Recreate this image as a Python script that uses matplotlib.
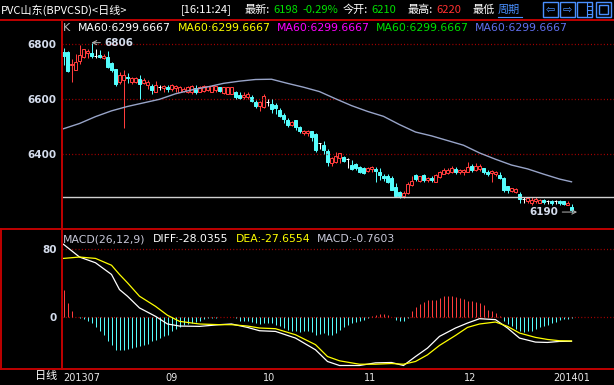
import numpy as np
import matplotlib.pyplot as plt
from matplotlib.patches import Rectangle
from matplotlib.lines import Line2D

plt.rcParams['font.family'] = ['Noto Sans CJK SC', 'DejaVu Sans']
plt.rcParams['lines.scale_dashes'] = False

W, H = 614, 385

# daily OHLC, 2013-07 .. 2014-01
opens = [6772, 6772, 6726, 6707, 6738, 6753, 6770, 6770, 6758, 6760,
         6751, 6753, 6731, 6710, 6662, 6669, 6681, 6662, 6664, 6672,
         6660, 6652, 6650, 6628, 6643, 6640, 6645, 6638, 6640, 6628,
         6631, 6628, 6626, 6640, 6628, 6631, 6633, 6628, 6633, 6643,
         6624, 6621, 6621, 6627, 6615, 6610, 6608, 6610, 6591, 6577,
         6572, 6589, 6582, 6579, 6562, 6543, 6524, 6507, 6524, 6500,
         6478, 6476, 6483, 6474, 6442, 6433, 6411, 6370, 6373, 6387,
         6390, 6382, 6361, 6363, 6354, 6349, 6339, 6346, 6346, 6334,
         6322, 6320, 6315, 6282, 6262, 6248, 6260, 6289, 6325, 6303,
         6325, 6305, 6313, 6301, 6318, 6330, 6332, 6334, 6346, 6334,
         6334, 6337, 6356, 6342, 6346, 6349, 6337, 6332, 6327, 6325,
         6315, 6284, 6265, 6262, 6255, 6238, 6231, 6224, 6229, 6224,
         6234, 6229, 6231, 6229, 6231, 6229, 6214, 6210]
highs = [6787, 6775, 6748, 6763, 6796, 6784, 6784, 6806, 6784, 6778,
         6763, 6775, 6736, 6712, 6698, 6707, 6695, 6681, 6681, 6688,
         6676, 6669, 6655, 6667, 6652, 6652, 6652, 6655, 6652, 6648,
         6643, 6648, 6652, 6652, 6648, 6652, 6650, 6652, 6650, 6645,
         6645, 6645, 6645, 6630, 6627, 6625, 6625, 6617, 6598, 6594,
         6618, 6601, 6601, 6586, 6570, 6550, 6531, 6522, 6526, 6502,
         6490, 6490, 6483, 6476, 6442, 6447, 6421, 6390, 6409, 6406,
         6394, 6385, 6380, 6368, 6358, 6354, 6354, 6358, 6354, 6349,
         6330, 6327, 6320, 6296, 6265, 6267, 6298, 6320, 6330, 6322,
         6327, 6318, 6320, 6327, 6339, 6349, 6351, 6356, 6354, 6346,
         6346, 6373, 6363, 6368, 6363, 6351, 6342, 6342, 6339, 6337,
         6318, 6286, 6279, 6277, 6262, 6246, 6246, 6243, 6243, 6238,
         6236, 6234, 6234, 6234, 6234, 6231, 6229, 6220]
lows = [6724, 6700, 6662, 6707, 6730, 6750, 6750, 6750, 6750, 6750,
        6746, 6714, 6700, 6650, 6657, 6494, 6660, 6657, 6660, 6602,
        6655, 6638, 6621, 6626, 6633, 6628, 6628, 6631, 6628, 6626,
        6626, 6624, 6621, 6621, 6626, 6626, 6631, 6626, 6628, 6628,
        6621, 6619, 6619, 6601, 6601, 6601, 6601, 6589, 6567, 6558,
        6570, 6577, 6550, 6548, 6536, 6514, 6498, 6502, 6490, 6476,
        6469, 6466, 6450, 6409, 6418, 6402, 6358, 6356, 6370, 6370,
        6373, 6351, 6342, 6342, 6332, 6330, 6334, 6334, 6301, 6308,
        6303, 6294, 6270, 6246, 6241, 6241, 6256, 6286, 6303, 6301,
        6298, 6301, 6301, 6298, 6315, 6327, 6330, 6332, 6330, 6330,
        6325, 6334, 6334, 6339, 6339, 6330, 6322, 6301, 6320, 6310,
        6262, 6258, 6262, 6260, 6224, 6224, 6224, 6217, 6222, 6222,
        6219, 6219, 6214, 6219, 6217, 6217, 6214, 6190]
closes = [6758, 6702, 6728, 6734, 6760, 6782, 6777, 6758, 6758, 6753,
          6758, 6717, 6707, 6655, 6688, 6688, 6676, 6679, 6676, 6655,
          6669, 6664, 6633, 6652, 6643, 6648, 6638, 6652, 6648, 6645,
          6638, 6645, 6648, 6626, 6645, 6650, 6648, 6648, 6648, 6631,
          6643, 6643, 6643, 6610, 6603, 6617, 6620, 6593, 6577, 6591,
          6613, 6589, 6565, 6567, 6538, 6529, 6505, 6519, 6498, 6483,
          6485, 6485, 6464, 6414, 6442, 6416, 6373, 6385, 6392, 6404,
          6375, 6382, 6346, 6349, 6337, 6332, 6351, 6353, 6339, 6325,
          6315, 6301, 6272, 6248, 6250, 6258, 6291, 6303, 6310, 6320,
          6308, 6313, 6308, 6325, 6337, 6342, 6344, 6349, 6334, 6344,
          6344, 6354, 6342, 6356, 6358, 6334, 6327, 6339, 6334, 6313,
          6270, 6272, 6277, 6274, 6238, 6238, 6241, 6234, 6238, 6234,
          6226, 6229, 6224, 6229, 6224, 6219, 6224, 6198]

ma_idx = [0, 4, 8, 12, 16, 20, 24, 28, 32, 36, 40, 44, 48, 52, 56, 60, 64,
          68, 72, 76, 80, 84, 88, 92, 96, 100, 104, 108, 112, 116, 120, 124, 127]
ma60 = [6493, 6512, 6537, 6558, 6574, 6587, 6600, 6620, 6634, 6645, 6658,
        6666, 6672, 6673, 6658, 6644, 6628, 6602, 6577, 6556, 6538, 6508,
        6481, 6467, 6450, 6433, 6405, 6382, 6361, 6347, 6328, 6310, 6300]

macd_idx = [0, 4, 8, 12, 14, 16, 19, 23, 26, 29, 34, 39, 42, 46, 49, 53, 58,
            63, 66, 69, 74, 78, 82, 85, 88, 91, 94, 98, 101, 104, 108, 111,
            114, 118, 121, 124, 127]
diff_vals = [85.5, 70.6, 63.9, 50.2, 32.5, 24.7, 11, 1.2, -7.8, -10.2, -10.6,
             -8.6, -7.8, -11.8, -15.7, -16.5, -24.3, -38, -51.7, -56.4, -56.4,
             -53.3, -52.9, -56.4, -45.9, -36, -22.3, -12.5, -6.7, -1.6, -2.7,
             -12.5, -24.3, -29, -29.4, -28.2, -28.04]
dea_vals = [69, 70.6, 69, 61, 50.2, 40.4, 24.7, 12.9, 2.4, -4.7, -7.8, -8.6,
            -8.6, -10.2, -12.5, -13.3, -20.4, -32, -45.9, -50.9, -54.9, -54.9,
            -54.1, -54.9, -51.7, -43.9, -32.9, -21.2, -11.8, -7.8, -5.5, -10.6,
            -18.4, -23.5, -25.9, -27.4, -27.66]
macd_hist = [32.5, 16.9, 7.8, 0.5, -0.5, -1.6, -3.9, -6.7, -11.8, -16.5,
             -21.2, -27.4, -32.1, -38, -38.4, -38, -36.8, -36, -35.3, -34.1,
             -32.9, -31.4, -28.2, -26.6, -24.3, -22.3, -20.4, -16.5, -13.3, -11.8,
             -9.4, -7.8, -6.7, -5.5, -3.9, -2.4, -1.2, -0.8, -0.4, 0.3,
             0.5, 0.5, 0.2, -0.8, -3.9, -4.7, -4.7, -5.5, -6.7, -7.8,
             -6.3, -6.3, -6.7, -8.6, -10.6, -12.5, -14.5, -15.7, -16.5, -17.3,
             -16.5, -15.7, -17.3, -20.4, -19.6, -18.4, -21.2, -21.2, -18.4, -14.5,
             -11.8, -8.6, -6.7, -5.5, -3.9, -2.7, -0.8, 1.6, 2.4, 3.9,
             3.9, 2.4, 0.3, -2.7, -4.7, -3.9, -0.5, 7.8, 12.2, 15.7,
             18, 20.4, 20.8, 20.8, 22.7, 24.7, 25.5, 25.5, 24.3, 22.7,
             21.2, 19.6, 18.8, 18, 16.9, 14.1, 9, 7.1, 5.1, 1.2,
             -4.7, -7.8, -10.6, -13.3, -16.5, -17.3, -16.5, -15.7, -13.3, -11.8,
             -10.6, -8.6, -7.1, -5.5, -3.5, -2.4, -1.6, -0.76]

support_level = 6244
main_ticks = [6400, 6600, 6800]
macd_ticks = [0, 80]
month_pos = [0, 25.5, 49.75, 75, 100, 122.5]
month_labels = ['201307', '09', '10', '11', '12', '201401']

UP = '#FF3C3C'
DOWN = '#54FCFC'
FRAME = '#C00000'
GRID = '#B00000'
LABEL = '#D4DCEC'
px = 0.72  # one pixel in points at dpi 100
DOT = (0, (0.72, 1.6))

fig = plt.figure(figsize=(W / 100, H / 100), dpi=100, facecolor='black')


def fx(x):
    return x / W


def fy(y):
    return 1 - y / H


ax = fig.add_axes([fx(62), fy(228), fx(614) - fx(62), fy(19) - fy(228)], facecolor='black')
ax2 = fig.add_axes([fx(62), fy(369), fx(614) - fx(62), fy(228) - fy(369)], facecolor='black', sharex=ax)

for a in (ax, ax2):
    for s in a.spines.values():
        s.set_visible(False)
    a.tick_params(axis='both', length=0, colors=LABEL, labelsize=7.5, pad=4)

ax.set_xlim(-0.375, 137.625)
ax.set_ylim(6132, 6892)
ax2.set_ylim(-60.5, 104.6)

for v in main_ticks:
    ax.axhline(v, color=GRID, lw=0.9, ls=DOT)
for v in macd_ticks:
    ax2.axhline(v, color=GRID, lw=0.9, ls=DOT)

ax.set_yticks(main_ticks)
ax2.set_yticks(macd_ticks)
for lab in ax.get_yticklabels() + ax2.get_yticklabels():
    lab.set_fontweight('bold')
    lab.set_family('DejaVu Sans')
plt.setp(ax.get_xticklabels(), visible=False)

# candles
bw = 0.6
for i, (o, h, l, c) in enumerate(zip(opens, highs, lows, closes)):
    top, bot = max(o, c), min(o, c)
    if c > o:
        ax.vlines(i, top, h, color=UP, lw=px)
        ax.vlines(i, l, bot, color=UP, lw=px)
        ax.add_patch(Rectangle((i - bw / 2, bot), bw, top - bot, fc='black', ec=UP, lw=px))
    elif c < o:
        ax.vlines(i, l, h, color=DOWN, lw=px)
        ax.add_patch(Rectangle((i - bw / 2, bot), bw, top - bot, fc=DOWN, ec=DOWN, lw=px))
    else:
        ax.vlines(i, l, h, color='white', lw=px)
        ax.hlines(c, i - bw / 2 - 0.1, i + bw / 2 + 0.1, color='white', lw=px)

ax.plot(ma_idx, ma60, color='#98A4C8', lw=1.0)
ax.axhline(support_level, color='#D0D0D0', lw=1.0)

hi_i = int(np.argmax(highs))
lo_i = int(np.argmin(lows))
ax.annotate(str(highs[hi_i]), xy=(hi_i, highs[hi_i]), xytext=(13, 0), textcoords='offset pixels',
            ha='left', va='center', color=LABEL, fontsize=7.5, fontweight='bold', family='DejaVu Sans',
            arrowprops=dict(arrowstyle='->', color='#B0B0B0', lw=px, shrinkA=1, shrinkB=0))
ax.annotate(str(lows[lo_i]), xy=(lo_i + 1.4, lows[lo_i]), xytext=(-19, 0), textcoords='offset pixels',
            ha='right', va='center', color=LABEL, fontsize=7.5, fontweight='bold', family='DejaVu Sans',
            arrowprops=dict(arrowstyle='->', color='#B0B0B0', lw=px, shrinkA=1, shrinkB=0))

# MACD
hist = np.array(macd_hist)
idx = np.arange(len(hist))
ax2.vlines(idx[hist > 0], 0, hist[hist > 0], color=UP, lw=px)
ax2.vlines(idx[hist < 0], 0, hist[hist < 0], color=DOWN, lw=px)
ax2.plot(macd_idx, diff_vals, color='white', lw=0.9)
ax2.plot(macd_idx, dea_vals, color='#FFFF00', lw=0.9)

ax2.set_xticks(month_pos)
ax2.set_xticklabels(month_labels, ha='left', color='#E8E8E8', fontsize=7, family='DejaVu Sans')
ax2.tick_params(axis='x', pad=3)

# frame lines
frame = [((0, 614), (19.5, 19.5)), ((0, 614), (228.5, 228.5)), ((0, 614), (368.5, 368.5)),
         ((61.5, 61.5), (19.5, 368.5)), ((1, 1), (228.5, 368.5))]
for xs, ys in frame:
    fig.add_artist(Line2D([fx(x) for x in xs], [fy(y) for y in ys], color=FRAME, lw=1.4))

# header
hy = fy(10)
fs = 8
fig.text(fx(1), hy, 'PVC山东(BPVCSD)<日线>', color='white', fontsize=fs, va='center')
fig.text(fx(181), hy, '[16:11:24]', color='white', fontsize=fs, va='center')
fig.text(fx(245), hy, '最新:', color='white', fontsize=fs, va='center')
fig.text(fx(273), hy, '6198', color='#00E000', fontsize=fs, va='center')
fig.text(fx(302), hy, '-0.29%', color='#00E000', fontsize=fs, va='center')
fig.text(fx(343), hy, '今开:', color='white', fontsize=fs, va='center')
fig.text(fx(371), hy, '6210', color='#00E000', fontsize=fs, va='center')
fig.text(fx(408), hy, '最高:', color='white', fontsize=fs, va='center')
fig.text(fx(436), hy, '6220', color='#FF3030', fontsize=fs, va='center')
fig.text(fx(473), hy, '最低', color='white', fontsize=fs, va='center')
fig.text(fx(498), hy, '周期', color='#4A90FF', fontsize=fs, va='center')
fig.add_artist(Line2D([fx(498), fx(522)], [fy(17), fy(17)], color='#4A90FF', lw=0.8))

icons = [(543, '⇦'), (560, '⇨'), (577, ''), (596, '')]
for x0, g in icons:
    fig.add_artist(Rectangle((fx(x0), fy(17)), fx(15), fy(2) - fy(17), fill=False,
                             ec='#4A90FF', lw=1.0, transform=fig.transFigure))
    if g:
        fig.text(fx(x0 + 7.5), fy(9.5), g, color='#4A90FF', fontsize=8, ha='center', va='center',
                 family='DejaVu Sans')
fig.add_artist(Line2D([fx(587), fx(587)], [fy(2), fy(17)], color='#4A90FF', lw=0.8))
for yy in (6, 10, 14):
    fig.add_artist(Line2D([fx(587), fx(592)], [fy(yy), fy(yy)], color='#4A90FF', lw=0.8))
fig.add_artist(Rectangle((fx(599), fy(14)), fx(9), fy(5) - fy(14), fill=False,
                         ec='#4A90FF', lw=1.0, transform=fig.transFigure))

# legend line
ly = fy(28)
fig.text(fx(63), ly, 'K', color='#C0C0C0', fontsize=8, va='center', family='DejaVu Sans')
for x0, col in [(78, 'white'), (178, '#FFFF00'), (277, '#FF00FF'), (376, '#00E000'), (475, '#6070F0')]:
    fig.text(fx(x0), ly, 'MA60:6299.6667', color=col, fontsize=7.8, va='center', family='DejaVu Sans')

# MACD title
my = fy(239)
fig.text(fx(63), my, 'MACD(26,12,9)', color='#C8C8D8', fontsize=7.8, va='center', family='DejaVu Sans')
fig.text(fx(153), my, 'DIFF:-28.0355', color='white', fontsize=7.8, va='center', family='DejaVu Sans')
fig.text(fx(236), my, 'DEA:-27.6554', color='#FFFF00', fontsize=7.8, va='center', family='DejaVu Sans')
fig.text(fx(317), my, 'MACD:-0.7603', color='#C8C8D8', fontsize=7.8, va='center', family='DejaVu Sans')

fig.text(fx(57), fy(376.5), '日线', color='white', fontsize=8, ha='right', va='center')

fig.savefig('out.png', dpi=100, facecolor='black')
